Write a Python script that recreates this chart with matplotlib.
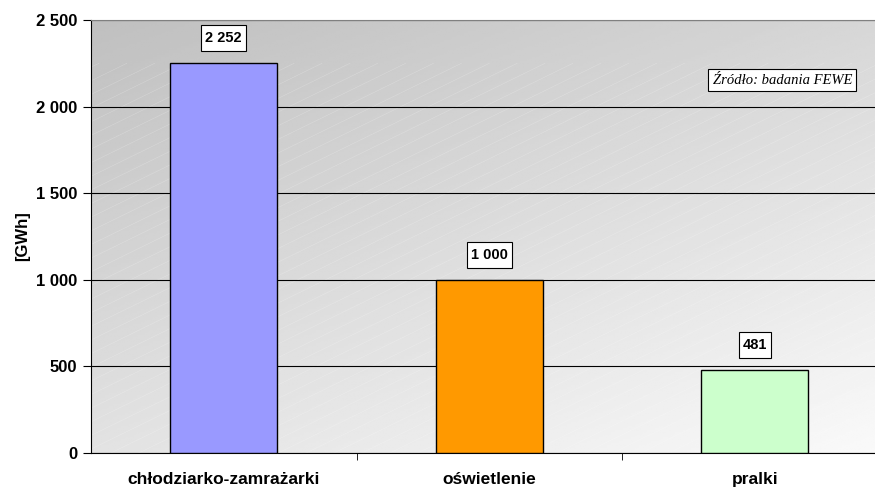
import numpy as np
import matplotlib
matplotlib.use("Agg")
import matplotlib.pyplot as plt
from matplotlib.patches import Rectangle
from matplotlib.ticker import FuncFormatter

categories = ["chłodziarko-zamrażarki", "oświetlenie", "pralki"]
values = [2252, 1000, 481]
colors = ["#9999ff", "#ff9900", "#ccffcc"]
yticks = [0, 500, 1000, 1500, 2000, 2500]

plt.rcParams["font.family"] = ["Liberation Sans", "DejaVu Sans"]

fig = plt.figure(figsize=(8.75, 4.9), dpi=100)
ax = fig.add_axes([91 / 875, 37 / 490, 796.5 / 875, 433 / 490])

# gradient background (dark top-left -> light bottom-right)
xx, yy = np.meshgrid(np.linspace(0, 1, 200), np.linspace(0, 1, 200))
shade = 0.75 + 0.23 * (0.6 * yy + 0.4 * xx)   # row 0 = top
ax.imshow(shade, cmap="gray", vmin=0, vmax=1, extent=[0, 1, 0, 1],
          transform=ax.transAxes, aspect="auto", zorder=0, origin="upper")

# faint diagonal streaks
for off in np.arange(-1.2, 1.2, 0.035):
    ax.plot([off, off + 1.0], [0, 0.9], transform=ax.transAxes,
            color="white", lw=0.4, alpha=0.25, zorder=0.5)

x = np.arange(len(categories))
ax.bar(x, values, width=0.404, color=colors, edgecolor="black", linewidth=1.0, zorder=3)

ax.set_xlim(-0.5, 2.5)
ax.set_ylim(0, 2500)

labels = []
for xi, v in zip(x, values):
    t = ax.text(xi, v + 145, f"{v:,}".replace(",", " "), ha="center", va="center",
                fontsize=10.5, fontweight="bold", zorder=5)
    labels.append(t)

# label boxes: a bit taller than the text, like the original
fig.canvas.draw()
inv = ax.transData.inverted()
for t in labels:
    bb = t.get_window_extent()
    x0, y0 = inv.transform((bb.x0 - 4, bb.y0 - 6))
    x1, y1 = inv.transform((bb.x1 + 4, bb.y1 + 6))
    ax.add_patch(Rectangle((x0, y0), x1 - x0, y1 - y0, fc="white", ec="black",
                           lw=0.8, zorder=4))

ax.set_yticks(yticks)
ax.yaxis.set_major_formatter(FuncFormatter(lambda v, p: f"{int(v):,}".replace(",", " ")))
ax.grid(axis="y", color="black", lw=0.8, zorder=1)
ax.set_axisbelow(True)

ax.set_xticks(x)
ax.set_xticklabels(categories, fontsize=12.5, fontweight="bold")
ax.set_xticks([0.5, 1.5], minor=True)
ax.tick_params(axis="x", which="major", length=0, pad=14)
ax.tick_params(axis="x", which="minor", length=5, direction="out")
ax.tick_params(axis="y", length=6, labelsize=12, pad=4)
for lab in ax.get_yticklabels():
    lab.set_fontweight("bold")

for s in ["left", "bottom"]:
    ax.spines[s].set_color("black")
ax.spines["top"].set_color("#808080")
ax.spines["right"].set_visible(False)

ax.set_ylabel("[GWh]", fontsize=12, fontweight="bold", labelpad=4)

ax.text(0.868, 0.861, "Źródło: badania FEWE", transform=ax.transAxes,
        ha="center", va="center", fontsize=10.5, style="italic",
        family=["Liberation Serif", "DejaVu Serif"], zorder=4,
        bbox=dict(boxstyle="square,pad=0.3", fc="white", ec="black", lw=0.8))

fig.savefig("out.png", dpi=100)
